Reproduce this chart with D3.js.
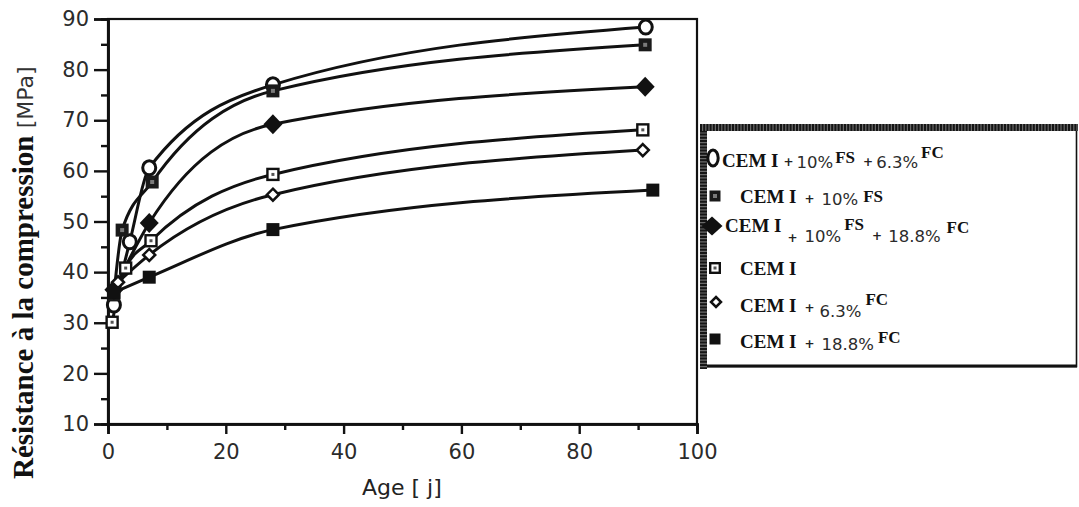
<!DOCTYPE html>
<html>
<head>
<meta charset="utf-8">
<script src="https://cdn.jsdelivr.net/npm/d3@7"></script>
<style>
  html, body { margin: 0; padding: 0; background: #fff; }
  svg { display: block; }
</style>
</head>
<body>
<svg id="chart" width="1079" height="507"></svg>
<script>
// Compressive strength (MPa) against age (days) for six cement blends

const seriesLabels = [
  "CEM I + 10% FS + 6.3% FC",
  "CEM I + 10% FS",
  "CEM I + 10% FS + 18.8% FC",
  "CEM I",
  "CEM I + 6.3% FC",
  "CEM I + 18.8% FC"
];

const ageFs63 = [1, 3.7, 7, 28, 91.3];
const strengthFs63 = [33.5, 46, 60.6, 77, 88.4];

const ageFs = [1, 2.4, 7.5, 28, 91.2];
const strengthFs = [35.5, 48.3, 57.8, 75.8, 84.9];

const ageFs188 = [1, 7, 28, 91.2];
const strengthFs188 = [36.5, 49.7, 69.2, 76.6];

const ageRef = [0.7, 3, 7.3, 28, 90.8];
const strengthRef = [30.1, 40.8, 46.2, 59.3, 68.1];

const age63 = [1.7, 7, 28, 90.8];
const strength63 = [38, 43.4, 55.3, 64.1];

const age188 = [1, 7, 28, 92.5];
const strength188 = [36, 39, 48.4, 56.2];

const xTicks = [0, 20, 40, 60, 80, 100];
const xMinorTicks = [10, 30, 50, 70, 90];
const yTicks = [10, 20, 30, 40, 50, 60, 70, 80, 90];
const yMinorTicks = [15, 25, 35, 45, 55, 65, 75, 85];

const xTitle = "Age [ j]";
const yTitleMain = "Résistance à la compression ";
const yTitleUnit = "[MPa]";

// Legend wording, split into the pieces that are typeset separately
const legendText = [
  ["CEM I", "+", "10%", "FS", "+", "6.3%", "FC"],
  ["CEM I", "+", "10%", "FS"],
  ["CEM I", "+", "10%", "FS", "+", "18.8%", "FC"],
  ["CEM I"],
  ["CEM I", "+", "6.3%", "FC"],
  ["CEM I", "+", "18.8%", "FC"]
];

// ---- series assembly ----
const ages = [ageFs63, ageFs, ageFs188, ageRef, age63, age188];
const strengths = [strengthFs63, strengthFs, strengthFs188, strengthRef, strength63, strength188];
const markerKinds = ["circle", "squareDot", "diamond", "squareOpen", "diamondOpen", "square"];

const series = seriesLabels.map((label, i) => ({
  label,
  kind: markerKinds[i],
  points: ages[i].map((a, j) => ({ age: a, value: strengths[i][j] }))
}));

// ---- layout ----
const svg = d3.select("#chart");
const x = d3.scaleLinear().domain([0, 100]).range([108, 697]);
const y = d3.scaleLinear().domain([10, 90]).range([424, 19]);

const sansFont = "'DejaVu Sans', sans-serif";
const serifFont = "'Liberation Serif', 'Times New Roman', serif";

// plot frame
svg.append("rect")
  .attr("x", x(0)).attr("y", y(90))
  .attr("width", x(100) - x(0)).attr("height", y(10) - y(90))
  .attr("fill", "none").attr("stroke", "#111").attr("stroke-width", 2.2);

// axes
function styleAxis(g) {
  g.select(".domain").attr("stroke", "#111").attr("stroke-width", 2.6);
  g.selectAll(".tick line").attr("stroke", "#111").attr("stroke-width", 2.4);
  g.selectAll(".tick text")
    .attr("font-family", sansFont).attr("font-size", 21)
    .attr("fill", "#2b2b2b");
}

const gx = svg.append("g").attr("transform", `translate(0,${y(10)})`)
  .call(d3.axisBottom(x).tickValues(xTicks).tickSize(10).tickPadding(9).tickFormat(d3.format("d")))
  .call(styleAxis);
gx.selectAll(".tick text").attr("dy", "0.74em");

svg.append("g").attr("transform", `translate(0,${y(10)})`)
  .call(d3.axisBottom(x).tickValues(xMinorTicks).tickSize(6).tickFormat(""))
  .call(styleAxis);

svg.append("g").attr("transform", `translate(${x(0)},0)`)
  .call(d3.axisLeft(y).tickValues(yTicks).tickSize(14).tickPadding(5).tickFormat(d3.format("d")))
  .call(styleAxis);

svg.append("g").attr("transform", `translate(${x(0)},0)`)
  .call(d3.axisLeft(y).tickValues(yMinorTicks).tickSize(7).tickFormat(""))
  .call(styleAxis);

// axis titles
svg.append("text")
  .attr("x", 362).attr("y", 495)
  .attr("font-family", sansFont).attr("font-size", 22).attr("fill", "#222")
  .text(xTitle);

const yTitle = svg.append("text")
  .attr("transform", "translate(33,479) rotate(-90)")
  .attr("font-family", serifFont).attr("font-weight", "bold")
  .attr("font-size", 29).attr("fill", "#111");
yTitle.append("tspan").text(yTitleMain);
yTitle.append("tspan").attr("font-family", sansFont).attr("font-weight", "normal")
  .attr("font-size", 22).attr("fill", "#333").text(yTitleUnit);

// curves
const line = d3.line()
  .x(d => x(d.age)).y(d => y(d.value))
  .curve(d3.curveMonotoneX);

svg.append("g").selectAll("path")
  .data(series)
  .join("path")
  .attr("d", d => line(d.points))
  .attr("fill", "none")
  .attr("stroke", "#111")
  .attr("stroke-width", 3)
  .attr("stroke-linejoin", "round")
  .attr("stroke-linecap", "round");

// marker symbols
function drawMarker(g, kind, cx, cy, legend) {
  const s = g.append("g").attr("transform", `translate(${cx},${cy})`);
  if (kind === "circle") {
    s.append("ellipse")
      .attr("rx", legend ? 5.2 : 6.5).attr("ry", legend ? 8 : 7)
      .attr("fill", "#fff").attr("stroke", "#111").attr("stroke-width", 3);
  } else if (kind === "squareDot") {
    const h = legend ? 5.5 : 6.5;
    s.append("rect").attr("x", -h).attr("y", -h).attr("width", 2 * h).attr("height", 2 * h)
      .attr("fill", "#1a1a1a");
    s.append("rect").attr("x", -2).attr("y", -2).attr("width", 4).attr("height", 4)
      .attr("fill", "#7a7a7a");
  } else if (kind === "diamond") {
    const w = legend ? 10.5 : 9.5, hh = legend ? 9.5 : 10;
    s.append("path").attr("d", `M0,${-hh}L${w},0L0,${hh}L${-w},0Z`).attr("fill", "#111");
  } else if (kind === "squareOpen") {
    const h = legend ? 4.8 : 5.5;
    s.append("rect").attr("x", -h).attr("y", -h).attr("width", 2 * h).attr("height", 2 * h)
      .attr("fill", "#fff").attr("stroke", "#111").attr("stroke-width", 2.4);
    s.append("rect").attr("x", -1.5).attr("y", -1.5).attr("width", 3).attr("height", 3)
      .attr("fill", "#555");
  } else if (kind === "diamondOpen") {
    const w = legend ? 5 : 6;
    s.append("path").attr("d", `M0,${-w}L${w},0L0,${w}L${-w},0Z`)
      .attr("fill", "#fff").attr("stroke", "#111").attr("stroke-width", 2.5);
  } else {
    const h = legend ? 5.5 : 6.5;
    s.append("rect").attr("x", -h).attr("y", -h).attr("width", 2 * h).attr("height", 2 * h)
      .attr("fill", "#111");
  }
}

const markerLayer = svg.append("g");
series.forEach(sr => {
  sr.points.forEach(p => drawMarker(markerLayer, sr.kind, x(p.age), y(p.value), false));
});

// ---- legend ----
const legend = svg.append("g");
legend.append("rect")
  .attr("x", 703.5).attr("y", 127.5).attr("width", 373).attr("height", 239)
  .attr("fill", "#fff").attr("stroke", "#111").attr("stroke-width", 1.6);
legend.append("line").attr("x1", 703).attr("x2", 1077).attr("y1", 366).attr("y2", 366)
  .attr("stroke", "#111").attr("stroke-width", 3);
// heavy textured left and top edges
[[703.5, 124, 703.5, 369], [700, 127.5, 1078, 127.5]].forEach(([x1, y1, x2, y2]) => {
  legend.append("line").attr("x1", x1).attr("y1", y1).attr("x2", x2).attr("y2", y2)
    .attr("stroke", "#6a6a6a").attr("stroke-width", 7);
  legend.append("line").attr("x1", x1).attr("y1", y1).attr("x2", x2).attr("y2", y2)
    .attr("stroke", "#151515").attr("stroke-width", 7).attr("stroke-dasharray", "2 1.2");
});

// marker centres, text start, and per-piece [gap before, baseline] for each row
const legendMarkerPos = [[713, 158], [715, 196], [712, 226], [715, 268], [716, 302], [715, 339]];
const legendStartX = [722, 740, 725, 740, 740, 740];
const legendPieceLayout = [
  [[0, 167], [5, 166], [3, 168], [2, 163], [8, 166], [3, 168], [3, 158]],
  [[0, 203], [8, 203], [7, 205], [5, 202]],
  [[0, 232], [6, 242], [7, 242], [3, 230], [8, 240], [6, 242], [6, 233]],
  [[0, 275]],
  [[0, 312], [8, 312], [5, 317], [4, 305]],
  [[0, 348], [8, 348], [7, 350], [4, 343]]
];

legendText.forEach((pieces, i) => {
  drawMarker(legend, markerKinds[i], legendMarkerPos[i][0], legendMarkerPos[i][1], true);
  let cursor = legendStartX[i];
  pieces.forEach((piece, j) => {
    const [gap, py] = legendPieceLayout[i][j];
    cursor += gap;
    const t = legend.append("text").attr("x", cursor).attr("y", py).text(piece);
    if (piece === "+") {
      t.attr("font-family", sansFont).attr("font-weight", "bold").attr("font-size", 12).attr("fill", "#222");
    } else if (/^[A-Z ]+$/.test(piece)) {
      const small = piece === "FS" || piece === "FC";
      t.attr("font-family", serifFont).attr("font-weight", "bold")
        .attr("font-size", small ? 17 : 19).attr("fill", "#111");
    } else {
      t.attr("font-family", sansFont).attr("font-size", 16.5).attr("fill", "#2b2b2b");
    }
    cursor += t.node().getComputedTextLength();
  });
});
</script>
</body>
</html>
